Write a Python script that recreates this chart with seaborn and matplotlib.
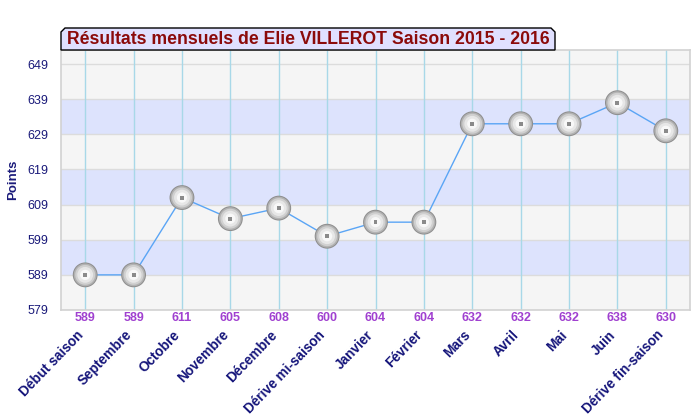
import pandas as pd
import matplotlib.pyplot as plt
import seaborn as sns
from matplotlib.patches import Polygon

# Données
mois = ['Début saison', 'Septembre', 'Octobre', 'Novembre', 'Décembre',
        'Dérive mi-saison', 'Janvier', 'Février', 'Mars', 'Avril', 'Mai',
        'Juin', 'Dérive fin-saison']
points = [589, 589, 611, 605, 608, 600, 604, 604, 632, 632, 632, 638, 630]
yticks = [579, 589, 599, 609, 619, 629, 639, 649]

titre = 'Résultats mensuels de Elie VILLEROT Saison 2015 - 2016'

df = pd.DataFrame({'pos': range(len(mois)), 'mois': mois, 'points': points})

sns.set_theme(style='white')
plt.rcParams['font.family'] = ['Liberation Sans', 'DejaVu Sans']

fig = plt.figure(figsize=(7, 4.2), dpi=100)
ax = fig.add_axes([61 / 700, 1 - 310 / 420, 629 / 700, 260 / 420])

ymin, ymax = 579, 653
ax.set_xlim(-0.5, len(mois) - 0.5)
ax.set_ylim(ymin, ymax)

# Bandes alternées
ax.set_facecolor('#f5f5f5')
for i, y0 in enumerate(yticks[:-1]):
    if i % 2 == 1:
        ax.axhspan(y0, y0 + 10, color='#dde3fd', zorder=0, lw=0)
for y in yticks[1:]:
    ax.axhline(y, color='#dcdcdc', lw=1, zorder=0.5)
for x in df['pos']:
    ax.axvline(x, color='#a8d8e8', lw=1, zorder=0.6)

# Courbe
sns.lineplot(data=df, x='pos', y='points', ax=ax, color='#5aa5f5', lw=1, zorder=2)

# Boules grises (dégradé simulé)
couches = [(320, '#8e8e8e'), (270, '#b2b2b2'), (205, '#d0d0d0'), (130, '#e7e7e7'), (55, '#f8f8f8')]
for s, c in couches:
    sns.scatterplot(data=df, x='pos', y='points', ax=ax, s=s, color=c,
                    edgecolor='none', linewidth=0, zorder=3, legend=False)
sns.scatterplot(data=df, x='pos', y='points', ax=ax, s=8, marker='s',
                color='#8a8a8a', edgecolor='none', zorder=4, legend=False)

# Axes
ax.set_yticks(yticks)
ax.set_yticklabels([str(v) for v in yticks], color='#1a1a7a', fontsize=9)
ax.set_xticks(df['pos'])
ax.set_xticklabels([])
ax.tick_params(axis='both', length=0, pad=9)
ax.set_xlabel('')
ax.set_ylabel('Points', color='#1a1a7a', fontsize=9.5, fontweight='bold', labelpad=6)

for sp in ax.spines.values():
    sp.set_color('#d2d2d2')
    sp.set_linewidth(1.2)

# Valeurs sous l'axe et étiquettes des mois
for x, (m, v) in enumerate(zip(mois, points)):
    ax.text(x, -0.032, str(v), transform=ax.get_xaxis_transform(), ha='center',
            va='center', color='#a040d0', fontsize=9, fontweight='bold')
    ax.text(x - 0.19, -0.068, m, transform=ax.get_xaxis_transform(), ha='right',
            va='top', rotation=46, rotation_mode='anchor', color='#15157a',
            fontsize=9.8, fontweight='bold')

# Cartouche du titre
x0, x1, y0, y1 = 61 / 700, 555 / 700, 1 - 50 / 420, 1 - 28 / 420
c = 4 / 700
cy = 4 / 420
box = Polygon([(x0, y0), (x0, y1 - cy), (x0 + c, y1), (x1 - c, y1), (x1, y1 - cy), (x1, y0)],
              closed=True, transform=fig.transFigure, facecolor='#e0e0ff',
              edgecolor='black', lw=1, zorder=10)
fig.patches.append(box)
fig.text((x0 + x1) / 2, (y0 + y1) / 2 - 0.002, titre, ha='center', va='center',
         color='#8b0a0a', fontsize=12.7, fontweight='bold', zorder=11)

fig.savefig('out.png', dpi=100)
